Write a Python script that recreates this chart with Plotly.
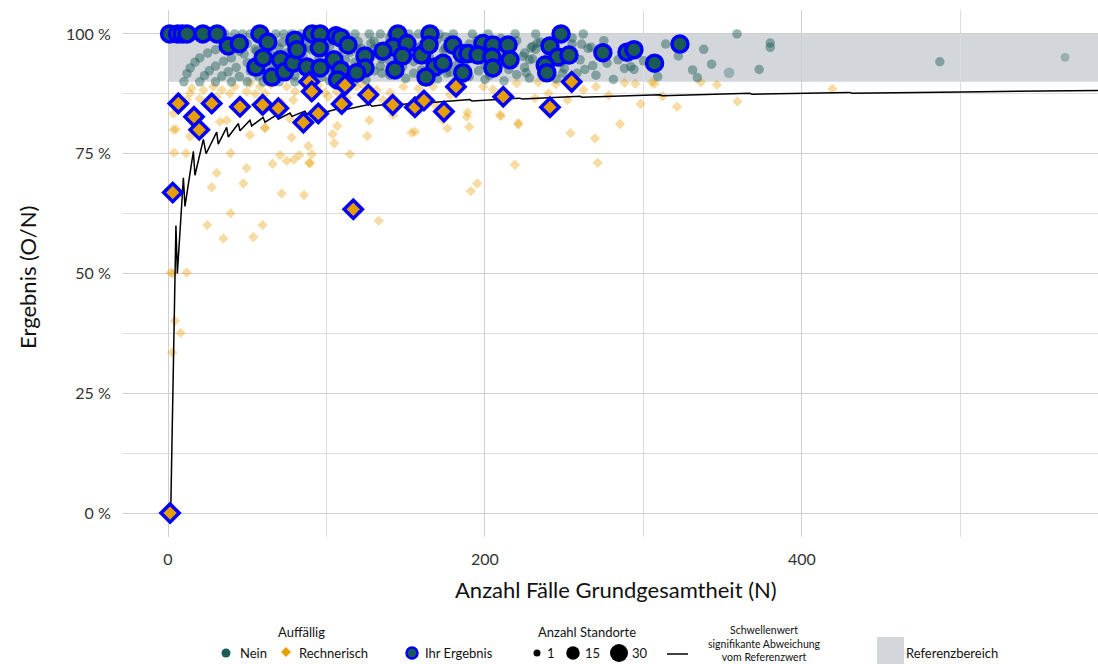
import plotly.graph_objects as go

# ---------------- data ----------------
# Background sites, "Auffällig: Nein" (N, Ergebnis in %)
nein_n = [10,12,14,17,20,25,30,40,50,65,80,110,150,
          20,23,26,30,35,40,48,56,70,85,100,130,170,
          30,34,38,43,50,58,66,75,90,110,140,180,220,
          40,45,52,58,66,75,85,100,120,150,190,
          50,57,64,72,82,95,108,125,145,175,210,
          60,68,76,86,98,112,128,150,180,230,
          70,80,90,102,118,135,160,195,
          80,92,105,120,140,165,200,
          92,104,118,134,155,185,225,
          102,115,130,148,172,205,
          125,140,160,182,200,215,190,170,230,240,250,260,265,235,255,210,195,220,245,200,150,110,
          130,160,120,140,175,155,178,196,210,225,238,228,212,185,165,188,205,232,248,258,270,275,268,
          2,3,4,5,7,8,10,11,14,16,18,19,24,27,29,33,36,42,47,52,57,61,68,73,78,84,88,93,99,103,
          112,118,127,134,141,152,158,171,180,192,202,219,232,251,262,
          359,380,380,487,338,343,373,331,334,314,322,309,281,277,275,261,255,267,284,288,294,292,300,
          233,249,228,263,
          102,108,115,122,128,133,138,144,150,157,162,168,174,181,187,193,199,206,213,218,224,229,236,242,
          95,88,78,72,62,55,45,35,160,135,118,97,145,176,203,226]
nein_pct = [90.0,91.7,92.9,94.1,95.0,96.0,96.7,97.5,98.0,98.5,98.8,99.1,99.3,
            90.0,91.3,92.3,93.3,94.3,95.0,95.8,96.4,97.1,97.6,98.0,98.5,98.8,
            90.0,91.2,92.1,93.0,94.0,94.8,95.5,96.0,96.7,97.3,97.9,98.3,98.6,
            90.0,91.1,92.3,93.1,93.9,94.7,95.3,96.0,96.7,97.3,97.9,
            90.0,91.2,92.2,93.1,93.9,94.7,95.4,96.0,96.6,97.1,97.6,
            90.0,91.2,92.1,93.0,93.9,94.6,95.3,96.0,96.7,97.4,
            90.0,91.3,92.2,93.1,94.1,94.8,95.6,96.4,
            90.0,91.3,92.4,93.3,94.3,95.2,96.0,
            90.2,91.3,92.4,93.3,94.2,95.1,96.0,
            90.2,91.3,92.3,93.2,94.2,95.1,
            90.4,91.4,92.5,93.4,93.5,92.6,91.1,90.6,94.8,95.8,92.8,94.6,97.0,98.3,99.2,99.1,98.7,91.5,90.6,90.5,90.7,90.9,
            96.9,97.6,98.4,99.3,99.4,91.8,92.0,92.3,93.8,93.0,92.2,90.8,90.2,90.1,93.6,96.9,98.2,96.8,94.0,91.8,91.4,95.8,93.4,
            100,100,100,100,100,100,100,100,100,100,100,100,100,100,100,100,100,100,100,100,100,100,100,100,100,100,100,100,100,100,
            100,100,100,100,100,100,100,100,100,100,100,100,100,100,100,
            100,98.1,97.2,94.2,96.8,93.7,92.6,92.5,90.9,97.9,95.4,91.1,90.5,93.9,98.6,97.9,97.9,97.2,94.6,92.8,92.6,93.2,94.4,
            98.1,91.8,94.6,92.6,
            97.5,98.6,96.2,97.0,98.0,95.6,97.4,96.1,98.4,97.0,96.3,98.0,96.5,97.8,94.0,96.0,97.2,96.5,95.8,97.8,95.3,97.1,93.8,96.6,
            98.4,97.2,97.0,98.2,97.2,96.8,96.4,97.2,91.5,91.8,90.3,91.0,93.9,91.8,91.4,91.9]
# a few sites with more locations (Anzahl Standorte)
nein_multi_n = [354, 566]
nein_multi_pct = [91.9, 95.1]
nein_multi_standorte = [8, 4]

# Background sites, "Auffällig: Rechnerisch"
rech_n = [5.0,3.8,11.4,39.5,30.7,27.6,49.6,47.5,24.8,34.9,53.8,59.7,39.5,70.7,74.9,79.5,82.8,90.7,89.1,66.0,
          71.7,85.8,114.8,125.7,127,103.9,104.9,106.8,132.9,1.7,11.8,3,13.9,78,88.5,51.7,61.2,32.8,
          4.4,8.0,2.7,
          142,153.7,155.8,176.2,190,189,173.5,210,221,254,269.4,285.2,218.9,271.1,195.1,191,168.5,
          244.8,262.1,288.1,294.9,305.4,307,336.2,346.3,298.2,321.1,359.3,419.2,231.5,
          3.4,28.6,33.9,39.1,30.7,22.3,13.9,11.8,3.4,51.7,58,61.2,49.7,37,61.2,74.9,80.1,71.7,77,79,
          101.1,106.4,119,131.7,135.8,148.5,154.8,167.4,177.9,188.5,198.9,209.5,220,233.6,221,89.6,
          15,20,42,55,65,70,95,99,113,123,140,158,183,205,215,240,252,270,278,312]
rech_pct = [80.1,75.2,75.1,75.1,71.0,68.0,72.0,68.8,60.1,57.3,57.6,60.1,62.6,74.7,73.5,73.8,74.7,74.9,73.1,72.9,
            66.7,66.4,74.9,78.7,82.0,79.1,77.2,80.8,61.0,50.2,50.2,50.0,78.6,78.4,76.6,78.9,80.5,81.7,
            40.1,37.6,33.5,
            83.1,79.4,79.6,80.3,80.6,83.6,82.0,82.9,81.1,79.3,78.2,81.2,72.7,73.1,68.8,67.2,85.2,
            89.5,88.3,89.8,89.6,89.9,89.6,89.9,89.4,85.4,84.8,85.9,88.5,86.6,
            83.4,89.0,88.3,87.6,86.9,88.3,87.6,86.2,80.0,89.7,89.0,87.6,88.0,82.0,80.3,89.0,88.0,85.5,82.3,86.2,
            86.9,88.0,89.0,88.3,86.2,89.0,84.8,89.0,87.3,82.7,89.0,83.1,89.7,89.9,81.4,73.0,
            88.7,86.5,89.0,87.5,89.5,86.0,89.3,87.8,86.7,89.4,87.8,88.6,89.4,88.4,86.9,87.6,86.2,89.0,87.2,87.0]

# "Ihr Ergebnis" - Auffällig: Nein
ihr_nein_n = [1,6,9,12,22,31,38,45,58,63,55.5,60,65.6,71,73.5,79,80,81.4,87.7,91,96,95.5,96,106,109,104.7,
              109,107,113.6,124.3,124.3,119,145,142,150.8,148,135.6,143.2,160,165.3,164.7,168.5,173.5,162.8,
              179.8,185.5,189.3,186,198.7,205,195.6,204.4,205,214.5,215.8,248,241,246,253,238,239,274.4,
              289.6,294,307,323]
ihr_nein_pct = [100,100,100,100,100,100,97.5,98,100,98.3,93.1,95,91,94.6,92.1,93.9,98.7,96.7,93.1,100,100,97.1,
                92.9,99.6,99.2,94.6,92.5,90.4,97.7,95.4,92.9,91.9,100,97.3,98,95.4,96.4,92.5,95.6,100,97.7,
                93.1,93.9,91,97.7,95.9,95.9,91.9,98,97.7,95.6,95.2,92.9,97.7,94.6,100,97.5,95.2,95.6,93.5,
                91.9,96.1,96.2,96.7,93.9,97.9]

# "Ihr Ergebnis" - Auffällig: Rechnerisch
ihr_rech_n = [1.3,3.0,6.5,27.6,45.4,59.7,69.6,16.4,19.7,85.4,94.8,89.1,90.7,109.6,111.7,116.9,126.4,141.8,
              155.8,161.5,174.1,181.7,211.5,254.7,241]
ihr_rech_pct = [0,66.9,85.5,85.5,84.8,85.2,84.5,82.7,80.0,81.5,83.4,90.0,88.0,85.4,89.3,63.4,87.3,85.2,
                84.7,86.1,83.8,89.0,86.9,90.0,84.7]

# Schwellenwert (signifikante Abweichung vom Referenzwert)
thr_n = [1.7,5,5.9,9.7,10.7,16,17,22.3,24,30.7,31.7,37,38,44.4,45.4,51.7,52.8,60,61.2,68.6,69.6,77,78.2,
         86.4,87.7,97.2,98.4,111.7,112.9,127.4,128.7,146.4,147.6,165.3,166.6,190.5,191.8,222,223.3,260,
         261.2,310.4,311.7,367.2,368.5,430.3,431.5,499.7,501,586.8]
thr_pct = [0,60,50,70,64,75.5,70.5,78,75,79.5,77,80.5,78.5,81.3,79.8,82,80.8,82.6,81.6,83.1,82.2,83.5,82.8,
           83.9,83.2,84.2,83.6,84.8,84.3,85.3,84.9,85.7,85.3,86.0,85.7,86.3,86.0,86.6,86.4,87.0,
           86.8,87.3,87.1,87.6,87.4,87.8,87.6,88.0,87.9,88.2]

ref_lower, ref_upper = 90, 100
y_ticks = [0, 25, 50, 75, 100]
y_ticklabels = ["0 %", "25 %", "50 %", "75 %", "100 %"]
x_ticks = [0, 200, 400]

# ---------------- styling ----------------
FONT = "Lato, 'Open Sans', sans-serif"
GREEN = "#1B5A55"
GREEN_BG = "rgba(27,90,85,0.45)"
ORANGE = "#E69F00"
ORANGE_BG = "rgba(230,159,0,0.36)"
BLUE = "#0000FF"
REF_GREY = "#D3D7DB"

W, H = 1098, 664
PL, PT, PB = 123, 10, 537   # plot area in pixels

def size_for(s):
    return (49 + (324 - 49) * (s - 1) / 29) ** 0.5

fig = go.Figure()

fig.add_shape(type="rect", xref="x", yref="y", x0=0, x1=700, y0=ref_lower, y1=ref_upper,
              fillcolor=REF_GREY, line_width=0, layer="below")

fig.add_trace(go.Scatter(x=rech_n, y=rech_pct, mode="markers",
                         marker=dict(symbol="diamond", size=8, color=ORANGE_BG, line_width=0),
                         showlegend=False, hoverinfo="skip"))
fig.add_trace(go.Scatter(x=nein_n, y=nein_pct, mode="markers",
                         marker=dict(symbol="circle", size=9.5, color=GREEN_BG, line_width=0),
                         showlegend=False, hoverinfo="skip"))
fig.add_trace(go.Scatter(x=nein_multi_n, y=nein_multi_pct, mode="markers",
                         marker=dict(symbol="circle", size=[size_for(s) for s in nein_multi_standorte],
                                     color=GREEN_BG, line_width=0),
                         showlegend=False, hoverinfo="skip"))
fig.add_trace(go.Scatter(x=thr_n, y=thr_pct, mode="lines",
                         line=dict(color="black", width=1.5),
                         showlegend=False, hoverinfo="skip"))
fig.add_trace(go.Scatter(x=ihr_nein_n, y=ihr_nein_pct, mode="markers",
                         marker=dict(symbol="circle", size=16, color=GREEN,
                                     line=dict(color=BLUE, width=3.5)),
                         showlegend=False))
fig.add_trace(go.Scatter(x=ihr_rech_n, y=ihr_rech_pct, mode="markers",
                         marker=dict(symbol="diamond", size=14, color=ORANGE,
                                     line=dict(color=BLUE, width=3.5)),
                         showlegend=False))

grid_major = "#CFCFCF"
grid_minor = "#DDDDDD"
fig.update_xaxes(domain=[PL / W, 1], range=[-28.4, 586.8], tickvals=x_ticks,
                 showgrid=True, gridcolor=grid_major, gridwidth=1.3, zeroline=False, showline=False,
                 ticks="outside", ticklen=8, tickcolor="rgba(0,0,0,0)",
                 tickfont=dict(family=FONT, size=16, color="#333333"),
                 minor=dict(dtick=100, tick0=0, showgrid=True, gridcolor=grid_minor, gridwidth=1))
fig.update_yaxes(domain=[1 - PB / H, 1 - PT / H], range=[-5, 105], tickvals=y_ticks, ticktext=y_ticklabels,
                 showgrid=True, gridcolor=grid_major, gridwidth=1.3, zeroline=False, showline=False,
                 ticks="outside", ticklen=8, tickcolor="rgba(0,0,0,0)",
                 tickfont=dict(family=FONT, size=16, color="#333333"),
                 minor=dict(dtick=12.5, tick0=0, showgrid=True, gridcolor=grid_minor, gridwidth=1))

def px(x):
    return x / W

def py(y):
    return 1 - y / H

ann = []
def text(x, y, s, size=13, xanchor="center", **kw):
    ann.append(dict(x=px(x), y=py(y), xref="paper", yref="paper", text=s, showarrow=False,
                    xanchor=xanchor, yanchor="middle", borderpad=0,
                    font=dict(family=FONT, size=size, color="#111111"), **kw))

# axis titles
text(616, 589, "Anzahl Fälle Grundgesamtheit (N)", size=22)
text(27, 278, "Ergebnis (O/N)", size=22, textangle=-90)

# legend
text(301, 632, "Auffällig")
text(239, 653, "Nein", xanchor="left")
text(298, 653, "Rechnerisch", xanchor="left")
text(424, 653, "Ihr Ergebnis", xanchor="left")
text(587, 632, "Anzahl Standorte")
text(546, 653, "1", xanchor="left")
text(584, 653, "15", xanchor="left")
text(631, 653, "30", xanchor="left")
text(764, 643, "Schwellenwert<br>signifikante Abweichung<br>vom Referenzwert", size=10.5)
text(905, 653, "Referenzbereich", xanchor="left")

shapes = []
def circle(x, y, d, color, line_color=None, lw=0):
    shapes.append(dict(type="circle", xref="paper", yref="paper", xsizemode="pixel", ysizemode="pixel",
                       xanchor=px(x), yanchor=py(y), x0=-d / 2, x1=d / 2, y0=-d / 2, y1=d / 2,
                       fillcolor=color, line=dict(color=line_color or color, width=lw)))

def diamond(x, y, d, color):
    r = d / 2
    shapes.append(dict(type="path", xref="paper", yref="paper", xsizemode="pixel", ysizemode="pixel",
                       xanchor=px(x), yanchor=py(y),
                       path=f"M 0 {r} L {r} 0 L 0 {-r} L {-r} 0 Z",
                       fillcolor=color, line=dict(width=0)))

circle(226, 653, 9, GREEN)
diamond(286, 652, 10, ORANGE)
circle(412, 653, 11, GREEN, BLUE, 2.5)
circle(537, 653, size_for(1), "black")
circle(573, 653, size_for(15), "black")
circle(619, 653, size_for(30), "black")
shapes.append(dict(type="line", xref="paper", yref="paper", x0=px(667), x1=px(688), y0=py(654), y1=py(654),
                   line=dict(color="black", width=1.5)))
shapes.append(dict(type="rect", xref="paper", yref="paper", x0=px(877), x1=px(904), y0=py(637), y1=py(664),
                   fillcolor=REF_GREY, line_width=0))

fig.update_layout(width=W, height=H, margin=dict(l=0, r=0, t=0, b=0),
                  paper_bgcolor="white", plot_bgcolor="white",
                  font=dict(family=FONT), annotations=ann,
                  shapes=list(fig.layout.shapes) + shapes)

fig.write_html("out.html", config={"displayModeBar": False},
               post_script="document.body.style.margin='0';document.body.style.overflow='hidden';")
